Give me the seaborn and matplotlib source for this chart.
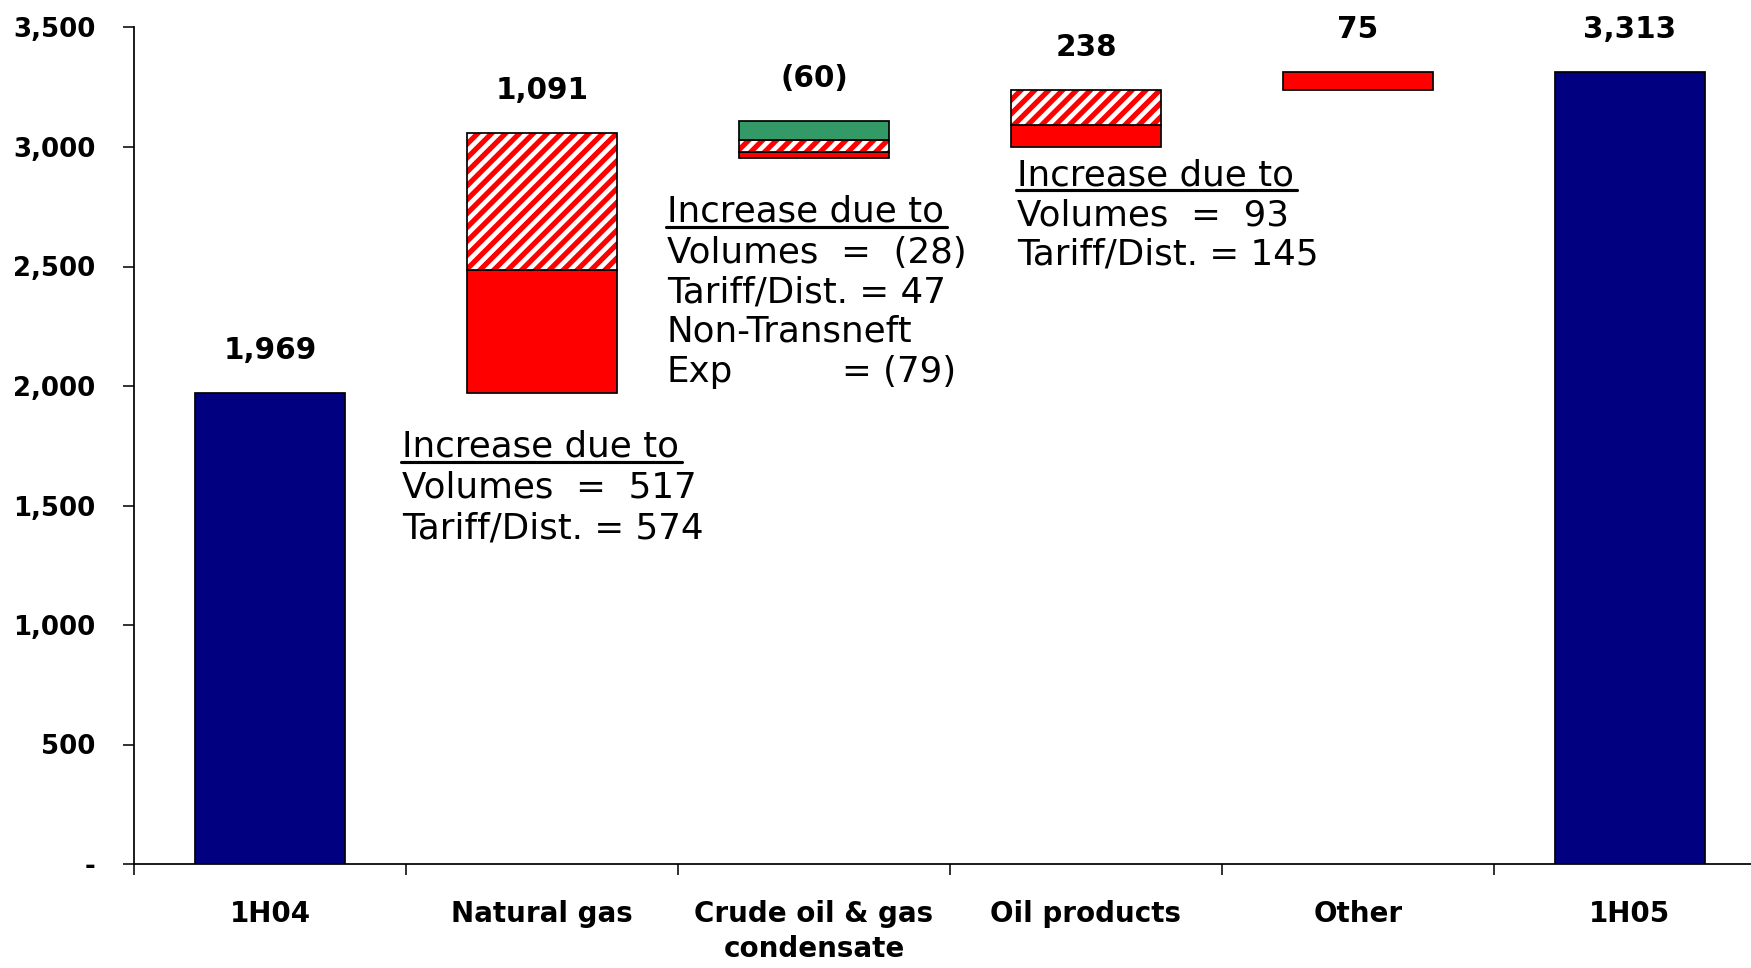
import numpy as np
import pandas as pd
import matplotlib
matplotlib.use("Agg")
import matplotlib.pyplot as plt
import seaborn as sns

# ---- data -------------------------------------------------------------
categories = ["1H04", "Natural gas", "Crude oil & gas\ncondensate",
              "Oil products", "Other", "1H05"]
total_periods = ["1H04", "1H05"]
total_values = [1969, 3313]

step_categories = ["Natural gas", "Crude oil & gas\ncondensate", "Oil products", "Other"]
volumes_effect = [517, -28, 93, 0]
tariff_effect = [574, 47, 145, 0]
non_transneft_effect = [0, -79, 0, 0]
other_effect = [0, 0, 0, 75]

y_ticks = [0, 500, 1000, 1500, 2000, 2500, 3000, 3500]

# ---- styling ------------------------------------------------------------
NAVY = "#000080"
RED = "#FF0000"
GREEN = "#339966"
BAR_W = 0.554
W, H, DPI = 1751, 968, 125

sns.set_theme(style="white")
plt.rcParams["font.family"] = ["DejaVu Sans"]
plt.rcParams["hatch.linewidth"] = 3.0

fig = plt.figure(figsize=(W / DPI, H / DPI), dpi=DPI)
ax = fig.add_axes([134 / W, 1 - 864 / H, 6 * 272 / W, (864 - 27.5) / H])

# totals (start and end periods)
df_tot = pd.DataFrame({"period": total_periods, "value": total_values})
sns.barplot(data=df_tot, x="period", y="value", order=categories, color=NAVY,
            saturation=1, width=BAR_W, edgecolor="black", linewidth=1.0, ax=ax)


def pos_of(name):
    return categories.index(name)


def fmt(v):
    return f"({abs(v):,})" if v < 0 else f"{v:,}"


bar_tops = {c: v for c, v in zip(total_periods, total_values)}
labels = {c: v for c, v in zip(total_periods, total_values)}

# floating steps of the bridge
components = [
    (volumes_effect, "solid"),
    (tariff_effect, "hatch"),
    (non_transneft_effect, "green"),
    (other_effect, "solid"),
]
running = total_values[0]
for i, cat in enumerate(step_categories):
    x = pos_of(cat)
    vals = [comp[0][i] for comp in components]
    neg = sum(v for v in vals if v < 0)
    pos = sum(v for v in vals if v > 0)
    bottom = running + neg
    for (series, style), v in zip(components, vals):
        if v == 0:
            continue
        h = abs(v)
        if style == "hatch":
            ax.bar(x, h, bottom=bottom, width=BAR_W, color="white",
                   edgecolor=RED, hatch="///", linewidth=0)
            ax.bar(x, h, bottom=bottom, width=BAR_W, fill=False,
                   edgecolor="black", linewidth=1.0)
        else:
            ax.bar(x, h, bottom=bottom, width=BAR_W,
                   color=GREEN if style == "green" else RED,
                   edgecolor="black", linewidth=1.0)
        bottom += h
    bar_tops[cat] = running + pos
    labels[cat] = sum(vals)
    running += sum(vals)

# value labels above every bar
for cat in categories:
    ax.annotate(fmt(labels[cat]), xy=(pos_of(cat), bar_tops[cat]),
                xytext=(0, 34), textcoords="offset pixels",
                ha="center", va="baseline", fontsize=17, fontweight="bold",
                color="black")

# ---- axes ---------------------------------------------------------------
ax.set_xlim(-0.5, 5.5)
ax.set_ylim(0, 3500)
ax.set_xlabel("")
ax.set_ylabel("")
for s in ["top", "right"]:
    ax.spines[s].set_visible(False)
for s in ["left", "bottom"]:
    ax.spines[s].set_color("black")
    ax.spines[s].set_linewidth(1.0)

ax.set_yticks(y_ticks)
ax.set_yticklabels(["-" if v == 0 else f"{v:,}" for v in y_ticks],
                   fontsize=15, fontweight="bold")
ax.tick_params(axis="y", direction="out", length=6.3, width=0.9, pad=16,
               colors="black", left=True)

ax.set_xticks(np.arange(-0.5, 6.0, 1.0))
ax.set_xticklabels([])
ax.set_xticks(np.arange(len(categories)), minor=True)
ax.set_xticklabels(categories, minor=True, fontsize=16, fontweight="bold",
                   linespacing=1.3)
ax.tick_params(axis="x", which="major", direction="out", length=6.3,
               width=0.9, colors="black", bottom=True)
ax.tick_params(axis="x", which="minor", length=0, pad=21, colors="black")
ax.grid(False)

# ---- explanatory notes ----------------------------------------------------
notes = [
    (402, [457, 498, 538],
     ["Increase due to", "Volumes  =  517", "Tariff/Dist. = 574"]),
    (667, [222, 263, 302, 342, 382],
     ["Increase due to", "Volumes  =  (28)", "Tariff/Dist. = 47",
      "Non-Transneft", "Exp"]),
    (1017, [185, 225, 265],
     ["Increase due to", "Volumes  =  93", "Tariff/Dist. = 145"]),
]
NOTE_FS = 20.5
heads = []
for x0, baselines, lines in notes:
    for j, (yb, line) in enumerate(zip(baselines, lines)):
        t = fig.text(x0 / W, 1 - yb / H, line, fontsize=NOTE_FS,
                     ha="left", va="baseline", color="black")
        if j == 0:
            heads.append((t, yb))
fig.text(842 / W, 1 - 382 / H, "= (79)", fontsize=NOTE_FS,
         ha="left", va="baseline", color="black")

fig.canvas.draw()
renderer = fig.canvas.get_renderer()
for t, yb in heads:
    bb = t.get_window_extent(renderer)
    yu = 1 - (yb + 5) / H
    fig.add_artist(plt.Line2D([(bb.x0 - 1) / W, (bb.x1 + 3) / W], [yu, yu],
                              transform=fig.transFigure, color="black",
                              linewidth=1.8))

fig.savefig("out.png", dpi=DPI, facecolor="white")
